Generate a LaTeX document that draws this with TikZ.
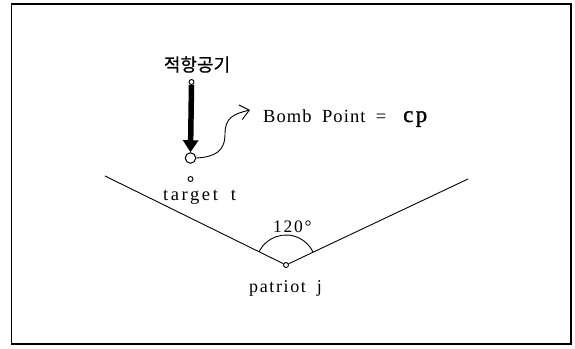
\documentclass[tikz,border=0pt]{standalone}
\usepackage{fontspec}
\setmainfont{Liberation Serif}
\newfontfamily\wide[WordSpace=1.8]{Liberation Serif}
\newfontfamily\kor{Noto Sans CJK KR}
\usetikzlibrary{arrows.meta}
\begin{document}
\begin{tikzpicture}[x=1pt,y=-1pt,
  lbl/.style={inner sep=0pt, anchor=base west},
  dot/.style={circle, draw, fill=white, line width=0.9pt, inner sep=0pt, minimum size=5pt},
  bigdot/.style={circle, draw, fill=white, line width=1pt, inner sep=0pt, minimum size=10.5pt},
  thin/.style={line width=0.9pt}]
\useasboundingbox (0,0) rectangle (575,348);
\draw[line width=1.5pt] (11.5,4) rectangle (571,344);
% labels
\node[inner sep=0pt] (kor) at (197,64.5) {\kor\fontsize{18}{20}\selectfont\addfontfeature{FakeBold=0.6}적항공기};
\node[lbl] (bomb) at (263,122) {\wide\fontsize{18.5}{20}\selectfont\addfontfeature{LetterSpace=6}Bomb Point =};
\node[lbl] (cp) at (403,122) {\fontsize{23}{24}\selectfont\addfontfeature{LetterSpace=10,FakeBold=1}cp};
\node[lbl] (tgt) at (163,200) {\wide\fontsize{18.5}{20}\selectfont\addfontfeature{LetterSpace=14}target t};
\node[lbl] (pat) at (249,292) {\wide\fontsize{18}{20}\selectfont\addfontfeature{LetterSpace=9}patriot j};
\node[lbl] (ang) at (273,232) {\fontsize{17.5}{20}\selectfont\addfontfeature{LetterSpace=10}120\textdegree};
% points
\coordinate (L) at (105,176);
\coordinate (R) at (468,179);
\node[dot] (patc) at (286,265) {};
\draw[thin] (L) -- (patc) -- (R);
\draw[thin] ([shift={(286,265)}]-154:30) arc[start angle=-154, end angle=-25, radius=30];
\node[dot] (topc) at (191.5,82) {};
\node[bigdot] (bombc) at (190.5,158) {};
\node[dot] (tgtc) at (190.5,179) {};
\draw[line width=5.5pt, -{Triangle[length=12pt,width=15pt]}] (topc.south) -- (bombc.north);
\coordinate (bp) at (250,110);
\draw[thin, -{Straight Barb[length=9pt,width=15pt]}] (bombc.east) .. controls (214,157) and (225,152) .. (225,134) .. controls (225,118) and (233,114) .. (bp);
\end{tikzpicture}
\end{document}
